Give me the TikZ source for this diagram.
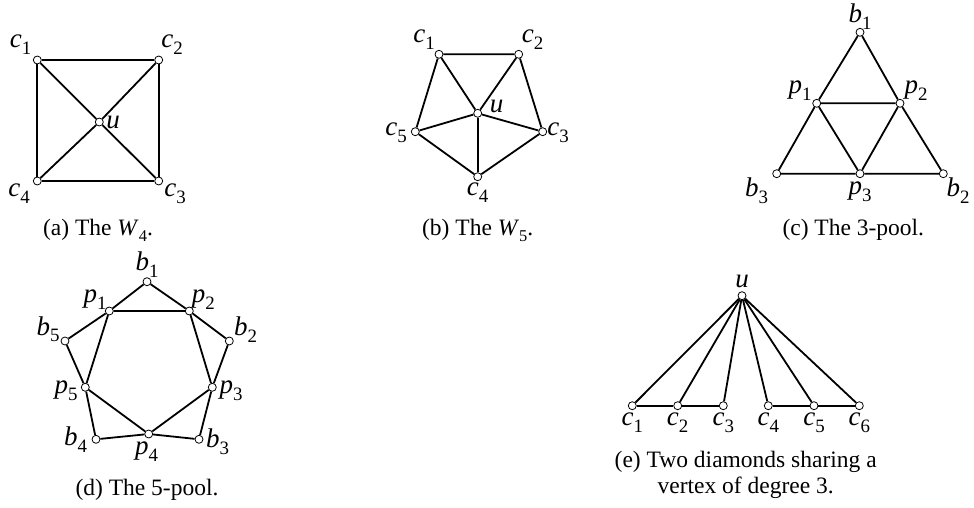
\documentclass[tikz,border=0pt]{standalone}
\usepackage{fontspec}
\setmainfont{Liberation Serif}
\newcommand{\vl}[2]{\textit{#1}\raisebox{-0.25em}{\scalebox{0.7}{#2}}}
\tikzset{
  vtx/.style={circle, draw, fill=white, inner sep=0pt, minimum size=8pt, line width=0.8pt},
  edge/.style={line width=1.8pt},
  lab/.style={inner sep=0pt, font=\fontsize{27}{30}\selectfont},
  captxt/.style={inner sep=0pt, align=center}
}

\begin{document}
\begin{tikzpicture}[x=1pt, y=-1pt, font=\fontsize{23.5}{26.6}\selectfont]
    % canvas 974x508, y grows downwards
    \useasboundingbox (0,0) rectangle (974,508);

    % =========================================
    % (a) W_4
    % =========================================
    \node[vtx] (a-c1) at (37.3,60) {};
    \node[vtx] (a-c2) at (158.7,60) {};
    \node[vtx] (a-c3) at (158.7,181) {};
    \node[vtx] (a-c4) at (37.3,181) {};
    \node[vtx] (a-u)  at (99.3,122) {};
    \draw[edge] (a-c1) -- (a-c2) -- (a-c3) -- (a-c4) -- (a-c1);
    \draw[edge] (a-c1) -- (a-u) -- (a-c3);
    \draw[edge] (a-c2) -- (a-u) -- (a-c4);

    \node[lab] (la-c1) at (20.7,45) {\vl{c}{1}};
    \node[lab] (la-c2) at (172,45) {\vl{c}{2}};
    \node[lab] (la-c3) at (175,194) {\vl{c}{3}};
    \node[lab] (la-c4) at (19,194) {\vl{c}{4}};
    \node[lab] (la-u)  at (113,122) {\textit{u}};
    \node[captxt] (cap-a) at (98,230) {(a) The \vl{W}{4}.};

    % =========================================
    % (b) W_5
    % =========================================
    \node[vtx] (b-c1) at (439,54.3) {};
    \node[vtx] (b-c2) at (518.7,54.3) {};
    \node[vtx] (b-c3) at (542.7,131.7) {};
    \node[vtx] (b-c4) at (477.7,176.7) {};
    \node[vtx] (b-c5) at (415.3,131.7) {};
    \node[vtx] (b-u)  at (477.7,113.3) {};
    \draw[edge] (b-c1) -- (b-c2) -- (b-c3) -- (b-c4) -- (b-c5) -- (b-c1);
    \draw[edge] (b-u) -- (b-c1);
    \draw[edge] (b-u) -- (b-c2);
    \draw[edge] (b-u) -- (b-c3);
    \draw[edge] (b-u) -- (b-c4);
    \draw[edge] (b-u) -- (b-c5);

    \node[lab] (lb-c1) at (424,40) {\vl{c}{1}};
    \node[lab] (lb-c2) at (532.7,40) {\vl{c}{2}};
    \node[lab] (lb-c3) at (558,133) {\vl{c}{3}};
    \node[lab] (lb-c4) at (477.7,193) {\vl{c}{4}};
    \node[lab] (lb-c5) at (396,133) {\vl{c}{5}};
    \node[lab] (lb-u)  at (496.7,106) {\textit{u}};
    \node[captxt] (cap-b) at (477.7,230) {(b) The \vl{W}{5}.};

    % =========================================
    % (c) the 3-pool
    % =========================================
    \node[vtx] (c-b1) at (860,32.3) {};
    \node[vtx] (c-p1) at (816.7,103.3) {};
    \node[vtx] (c-p2) at (900,103.3) {};
    \node[vtx] (c-b3) at (776.7,173.7) {};
    \node[vtx] (c-p3) at (860,173.7) {};
    \node[vtx] (c-b2) at (943.3,173.7) {};
    \draw[edge] (c-b1) -- (c-p1) -- (c-b3) -- (c-p3) -- (c-b2) -- (c-p2) -- (c-b1);
    \draw[edge] (c-p1) -- (c-p2) -- (c-p3) -- (c-p1);

    \node[lab] (lc-b1) at (860,16.7) {\vl{b}{1}};
    \node[lab] (lc-p1) at (800,91) {\vl{p}{1}};
    \node[lab] (lc-p2) at (916,91) {\vl{p}{2}};
    \node[lab] (lc-b3) at (756.7,190.7) {\vl{b}{3}};
    \node[lab] (lc-p3) at (860,192) {\vl{p}{3}};
    \node[lab] (lc-b2) at (958,190.7) {\vl{b}{2}};
    \node[captxt] (cap-c) at (853.3,230) {(c) The 3-pool.};

    % =========================================
    % (d) the 5-pool
    % =========================================
    \node[vtx] (d-b1) at (147,281.7) {};
    \node[vtx] (d-p1) at (109.3,311) {};
    \node[vtx] (d-p2) at (189.3,311) {};
    \node[vtx] (d-b5) at (65,341) {};
    \node[vtx] (d-b2) at (229.3,341) {};
    \node[vtx] (d-p5) at (85.3,387.3) {};
    \node[vtx] (d-p3) at (212.3,387.3) {};
    \node[vtx] (d-b4) at (96,439.3) {};
    \node[vtx] (d-p4) at (148.7,434) {};
    \node[vtx] (d-b3) at (199,439.3) {};
    % outer zig-zag
    \draw[edge] (d-p1) -- (d-b1) -- (d-p2) -- (d-b2) -- (d-p3) -- (d-b3) -- (d-p4)
                -- (d-b4) -- (d-p5) -- (d-b5) -- (d-p1);
    % inner pentagon
    \draw[edge] (d-p1) -- (d-p2) -- (d-p3) -- (d-p4) -- (d-p5) -- (d-p1);

    \node[lab] (ld-b1) at (147,265) {\vl{b}{1}};
    \node[lab] (ld-p1) at (95,300) {\vl{p}{1}};
    \node[lab] (ld-p2) at (203.3,300) {\vl{p}{2}};
    \node[lab] (ld-b5) at (48,329.3) {\vl{b}{5}};
    \node[lab] (ld-b2) at (245.5,329.3) {\vl{b}{2}};
    \node[lab] (ld-p5) at (66,391) {\vl{p}{5}};
    \node[lab] (ld-p3) at (231,391) {\vl{p}{3}};
    \node[lab] (ld-b4) at (75.5,440) {\vl{b}{4}};
    \node[lab] (ld-p4) at (146.7,452) {\vl{p}{4}};
    \node[lab] (ld-b3) at (217.5,442) {\vl{b}{3}};
    \node[captxt] (cap-d) at (147,490) {(d) The 5-pool.};

    % =========================================
    % (e) two diamonds sharing u
    % =========================================
    \node[vtx] (e-u)  at (742,295.7) {};
    \node[vtx] (e-c1) at (632.3,405.7) {};
    \node[vtx] (e-c2) at (677.7,405.7) {};
    \node[vtx] (e-c3) at (723.3,405.7) {};
    \node[vtx] (e-c4) at (768.3,405.7) {};
    \node[vtx] (e-c5) at (814,405.7) {};
    \node[vtx] (e-c6) at (859.3,405.7) {};
    \draw[edge] (e-c1) -- (e-c2) -- (e-c3);
    \draw[edge] (e-c4) -- (e-c5) -- (e-c6);
    \draw[edge] (e-u) -- (e-c1);
    \draw[edge] (e-u) -- (e-c2);
    \draw[edge] (e-u) -- (e-c3);
    \draw[edge] (e-u) -- (e-c4);
    \draw[edge] (e-u) -- (e-c5);
    \draw[edge] (e-u) -- (e-c6);

    \node[lab] (le-u)  at (742,281.7) {\textit{u}};
    \node[lab] (le-c1) at (632.3,423) {\vl{c}{1}};
    \node[lab] (le-c2) at (677.7,423) {\vl{c}{2}};
    \node[lab] (le-c3) at (723.3,423) {\vl{c}{3}};
    \node[lab] (le-c4) at (768.3,423) {\vl{c}{4}};
    \node[lab] (le-c5) at (814,423) {\vl{c}{5}};
    \node[lab] (le-c6) at (859.3,423) {\vl{c}{6}};
    \node[captxt] (cap-e) at (745.7,475) {(e) Two diamonds sharing a\\vertex of degree 3.};
\end{tikzpicture}
\end{document}
